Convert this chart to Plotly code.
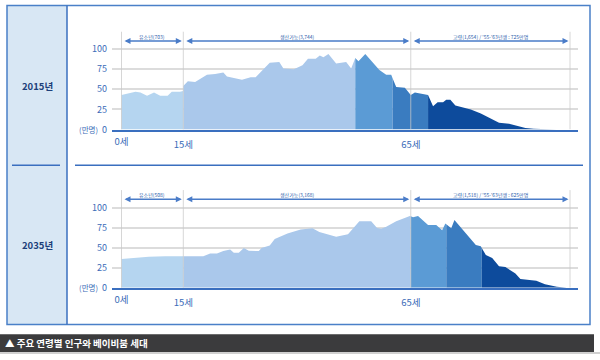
import numpy as np
import plotly.graph_objects as go

FONT = "Noto Sans CJK KR"

# ---------------- data (unit: 만명) ----------------
ages_2015 = [0, 3.4, 4.6, 6.2, 7.9, 9.4, 11.2, 12.2, 14.2, 14.95, 15, 16.0, 17.6, 20.2, 22.0,
             23.8, 24.6, 27.9, 29.8, 30.9, 34.0, 36.1, 37.0, 39.3, 41.2, 42.4, 44.1, 45.0,
             45.8, 46.9, 48.6, 50.8, 51.9, 52.8, 53.5, 55.0, 56.3, 58.1, 59.6, 60.7, 61.8,
             63.7, 65.0, 65.9, 68.4, 68.8, 69.9, 70.9, 72.1, 72.8, 73.7, 74.8, 76.4, 78.2,
             80.4, 82.6, 84.4, 86.6, 88.4, 90.2, 92.0, 94.9, 97.0]
pop_2015 = [43, 47, 46, 42, 46, 42, 42, 47, 47, 48, 54, 60, 59, 68, 69,
            71, 66, 62, 65, 65, 83, 84, 76, 75, 80, 88, 88, 92,
            90, 94, 82, 84, 76, 89, 85, 94, 86, 74, 68, 68, 53,
            52, 43, 46, 43, 43, 29, 34, 34, 37, 37, 30, 28, 25,
            20, 14, 8.5, 7.3, 4.5, 2, 1, 0.3, 0]

ages_2035 = [0, 3.4, 6.6, 10.6, 15, 19.4, 20.9, 22.4, 23.8, 25.3, 26.1, 27.2, 28.3, 29.4,
             31.6, 32.2, 34.0, 35.1, 37.9, 40.8, 43.4, 44.9, 48.6, 51.2, 53.7, 56.3, 57.6,
             58.5, 59.6, 61.8, 64.8, 65.5, 66.6, 67.3, 68.8, 70.6, 71.9, 72.6, 73.9, 74.6,
             76.4, 79.3, 80.4, 81.5, 82.9, 84.4, 85.8, 88.0, 89.1, 92.6, 94.5, 97.1, 99.3]
pop_2035 = [36, 38, 39, 39.5, 39.5, 39.5, 43, 43, 46, 48, 44, 44, 50, 46.5,
            46, 50, 53, 61, 68, 73, 74.5, 70, 64, 67, 83.5, 83.5, 75,
            74, 76.5, 83.5, 90, 88.5, 90, 86, 78.6, 78.6, 72, 80.7, 74.5, 85,
            73, 53.6, 52, 41, 37.5, 27, 26, 18, 11, 9, 4.5, 1.2, 0]

bands_2015 = [0, 15, 52.8, 61.0, 68.8, 100]
bands_2035 = [0, 15, 65, 72.8, 80.6, 100]
band_colors = ["#b5d5f0", "#aac8eb", "#5b9bd5", "#3a7cc0", "#0d4b9c"]

panel_titles = ["2015년", "2035년"]
segment_labels_2015 = ["유소년(703)", "생산가능(3,744)", "고령(1,654) / '55-'63년생 : 725만명"]
segment_labels_2035 = ["유소년(508)", "생산가능(3,168)", "고령(1,518) / '55-'63년생 : 625만명"]
segment_edges = [0, 15, 65, 100]
y_ticks = [0, 25, 50, 75, 100]
y_ticktext = ["<span style='font-size:7.5px'>(만명)</span>  0", "25", "50", "75", "100"]
footer = "▲ 주요 연령별 인구와 베이비붐 세대"

assert len(ages_2015) == len(pop_2015)
assert len(ages_2035) == len(pop_2035)

W, H = 600, 360
def px(x):
    return x / W
def py(y):
    return 1 - y / H

BLUE = "#3a6fbf"
TICKBLUE = "#3b6cb8"

# axis geometry (pixel layout of the original)
XL, XR = 112, 578
# main age axis: 15 -> 183.3 px, 100 -> 570 px
k_main = (570 - 183.3) / 85
main_range = [15 - (183.3 - XL) / k_main, 15 + (XR - 183.3) / k_main]
# child-age overlay axis: 0 -> 121.5 px, 15 -> 183.3 px
k_child = (183.3 - 121.5) / 15
child_range = [-(121.5 - XL) / k_child, (XR - 121.5) / k_child]

panels = [
    dict(ages=ages_2015, pop=pop_2015, bands=bands_2015, labels=segment_labels_2015,
         bottom=131.7, top=32.0, ymax=122.0, xa="x", xc="x3", ya="y", arrow_y=110, label_y=115.5,
         title_y=87),
    dict(ages=ages_2035, pop=pop_2035, bands=bands_2035, labels=segment_labels_2035,
         bottom=292.7, top=193.3, ymax=122.4, xa="x2", xc="x4", ya="y2", arrow_y=110.8, label_y=116.3,
         title_y=249),
]

fig = go.Figure()
shapes = []
annotations = []

# background frame
shapes.append(dict(type="rect", xref="paper", yref="paper", x0=px(7), x1=px(67), y0=py(330), y1=py(5.7),
                   fillcolor="#d8e7f4", line=dict(width=0), layer="below"))
shapes.append(dict(type="rect", xref="paper", yref="paper", x0=px(7), x1=px(590), y0=py(330), y1=py(5.7),
                   fillcolor="rgba(0,0,0,0)", line=dict(color="#4a80c8", width=1.5), layer="above"))
shapes.append(dict(type="line", xref="paper", yref="paper", x0=px(67), x1=px(67), y0=py(330), y1=py(5.7),
                   line=dict(color=BLUE, width=1.5)))
shapes.append(dict(type="line", xref="paper", yref="paper", x0=px(12), x1=px(60), y0=py(168), y1=py(168),
                   line=dict(color=BLUE, width=1.5)))
shapes.append(dict(type="line", xref="paper", yref="paper", x0=px(75), x1=px(583), y0=py(168), y1=py(168),
                   line=dict(color=BLUE, width=1.5)))
# footer bar
shapes.append(dict(type="rect", xref="paper", yref="paper", x0=px(0), x1=px(594), y0=py(358), y1=py(340),
                   fillcolor="#3b3b3d", line=dict(width=0)))
shapes.append(dict(type="rect", xref="paper", yref="paper", x0=px(0), x1=px(600), y0=py(360), y1=py(358),
                   fillcolor="#d0d0d0", line=dict(width=0)))
annotations.append(dict(text=footer, xref="paper", yref="paper", x=px(3), y=py(349), xanchor="left",
                        yanchor="middle", showarrow=False,
                        font=dict(family=FONT, size=9.5, color="white", weight="bold")))

for idx, p in enumerate(panels):
    ages, pop, bands = p["ages"], p["pop"], p["bands"]
    for i in range(len(bands) - 1):
        a, b = bands[i], bands[i + 1]
        xs = [a] + [x for x in ages if a < x < b] + [b]
        ys = list(np.interp(xs, ages, pop))
        fig.add_trace(go.Scatter(
            x=xs, y=ys, mode="lines", fill="tozeroy", fillcolor=band_colors[i],
            line=dict(width=0, color=band_colors[i]), hoverinfo="skip", showlegend=False,
            xaxis=p["xc"] if i == 0 else p["xa"], yaxis=p["ya"]))
    # vertical guide lines
    for j, e in enumerate(segment_edges):
        shapes.append(dict(type="line", xref=p["xc"] if j == 0 else p["xa"], yref=p["ya"],
                           x0=e, x1=e, y0=0, y1=p["ymax"], layer="above",
                           line=dict(color="rgba(200,200,200,0.75)", width=1)))
    # arrows and segment labels
    for j in range(3):
        a, b = segment_edges[j], segment_edges[j + 1]
        xr = p["xc"] if j == 0 else p["xa"]
        annotations.append(dict(x=b, y=p["arrow_y"], ax=a, ay=p["arrow_y"], xref=xr, yref=p["ya"],
                                axref=xr, ayref=p["ya"], text="", showarrow=True, arrowside="end+start",
                                arrowhead=2, arrowsize=0.8, arrowwidth=1.5, arrowcolor="#4a7cc8",
                                standoff=1.5, startstandoff=1.5))
        annotations.append(dict(x=(a + b) / 2, y=p["label_y"], xref=xr, yref=p["ya"], text=p["labels"][j],
                                xanchor="center", showarrow=False,
                                font=dict(family=FONT, size=5, color="#2a5caa")))
    annotations.append(dict(text=panel_titles[idx], xref="paper", yref="paper", x=px(37),
                            y=py(p["title_y"]), xanchor="center", yanchor="middle", showarrow=False,
                            font=dict(family=FONT, size=9.5, color="#1d3f7a", weight="bold")))

xcommon = dict(showgrid=False, zeroline=False, ticks="", fixedrange=True,
               tickfont=dict(family=FONT, size=9.5, color=TICKBLUE), ticklabelstandoff=5)
ycommon = dict(showgrid=True, gridcolor="#dcdcdc", gridwidth=1.5, zeroline=False, showline=False,
               ticks="", tickvals=y_ticks, ticktext=y_ticktext, fixedrange=True,
               tickfont=dict(family=FONT, size=9, color=TICKBLUE), ticklabelstandoff=4)

layout = dict(
    width=W, height=H, autosize=False,
    margin=dict(l=0, r=0, t=0, b=0),
    paper_bgcolor="white", plot_bgcolor="rgba(0,0,0,0)",
    showlegend=False,
    font=dict(family=FONT),
    shapes=shapes, annotations=annotations,
)
dom_x = [px(XL), px(XR)]
layout["xaxis"] = dict(xcommon, domain=dom_x, range=main_range, anchor="y", tickvals=[15, 65],
                       ticktext=["15세", "65세"], showline=True, linecolor=BLUE, linewidth=2)
layout["xaxis2"] = dict(xcommon, domain=dom_x, range=main_range, anchor="y2", tickvals=[15, 65],
                        ticktext=["15세", "65세"], showline=True, linecolor=BLUE, linewidth=2)
layout["xaxis3"] = dict(xcommon, range=child_range, overlaying="x", anchor="y", side="bottom",
                        tickvals=[0], ticktext=["0세"], showline=False)
layout["xaxis4"] = dict(xcommon, range=child_range, overlaying="x2", anchor="y2", side="bottom",
                        tickvals=[0], ticktext=["0세"], showline=False)
layout["yaxis"] = dict(ycommon, domain=[py(panels[0]["bottom"]), py(panels[0]["top"])],
                       range=[0, panels[0]["ymax"]], anchor="x")
layout["yaxis2"] = dict(ycommon, domain=[py(panels[1]["bottom"]), py(panels[1]["top"])],
                        range=[0, panels[1]["ymax"]], anchor="x2")
fig.update_layout(**layout)

fig.write_html("out.html", config=dict(displayModeBar=False),
               post_script="document.body.style.margin='0';document.body.style.overflow='hidden';")
